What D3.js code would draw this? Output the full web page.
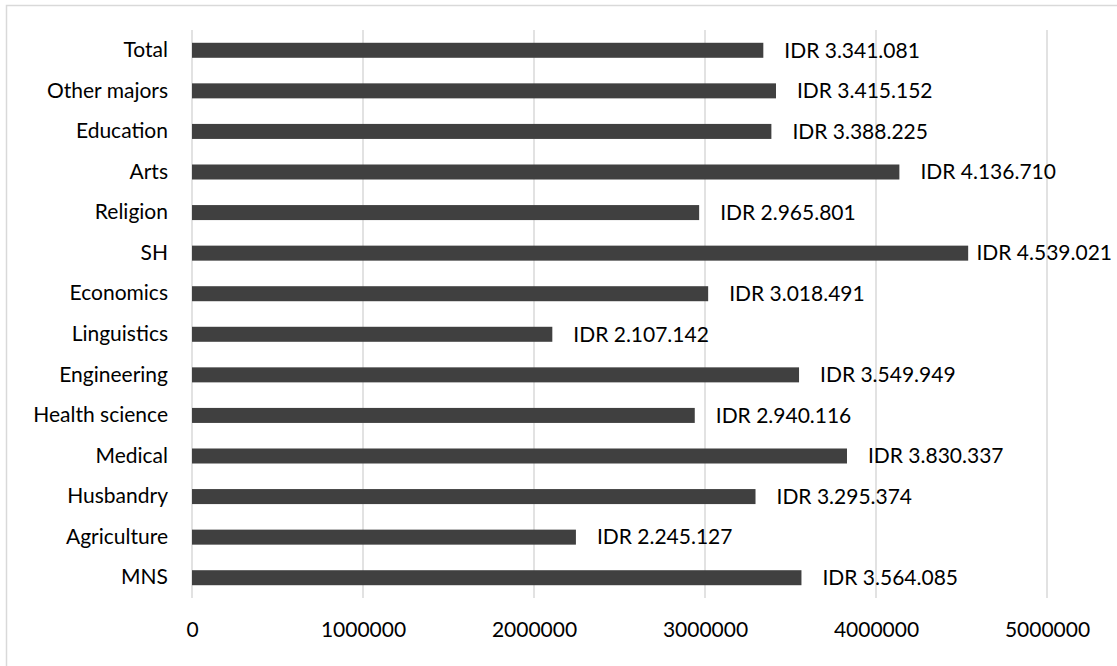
<!DOCTYPE html>
<html>
<head>
<meta charset="utf-8">
<title>Average income by major</title>
<script src="https://cdn.jsdelivr.net/npm/d3@7"></script>
<style>
  body { margin: 0; background: #fff; }
  text { font-family: Lato, "Open Sans", sans-serif; fill: #000; }
</style>
</head>
<body>
<div id="chart"></div>
<script>
// data, top to bottom as drawn
const categories = ["Total", "Other majors", "Education", "Arts", "Religion", "SH", "Economics",
  "Linguistics", "Engineering", "Health science", "Medical", "Husbandry", "Agriculture", "MNS"];
const incomes = [3341081, 3415152, 3388225, 4136710, 2965801, 4539021, 3018491,
  2107142, 3549949, 2940116, 3830337, 3295374, 2245127, 3564085];
const xTicks = [0, 1000000, 2000000, 3000000, 4000000, 5000000];

const W = 1117, H = 666;
const margin = {top: 30, right: 70, bottom: 68, left: 192};
const width = W - margin.left - margin.right,
      height = H - margin.top - margin.bottom;
const fontSize = 21;

const svg = d3.select("#chart").append("svg")
    .attr("width", W)
    .attr("height", H);

// light frame round the chart
svg.append("rect")
    .attr("x", 6.5).attr("y", 5.5)
    .attr("width", W + 20).attr("height", H + 20)
    .attr("fill", "none")
    .attr("stroke", "#d9d9d9")
    .attr("stroke-width", 1.5);

const g = svg.append("g")
    .attr("transform", "translate(" + margin.left + "," + margin.top + ")");

const x = d3.scaleLinear().domain([0, 5000000]).range([0, 855]);
const y = d3.scaleBand().domain(categories).range([0, height]).paddingInner(0.63).paddingOuter(0.315);

// vertical gridlines
g.selectAll(".grid").data(xTicks).enter()
    .append("line")
    .attr("class", "grid")
    .attr("x1", d => x(d)).attr("x2", d => x(d))
    .attr("y1", 0).attr("y2", height)
    .attr("stroke", "#d9d9d9")
    .attr("stroke-width", 1.5);

// x axis labels
const xAxis = g.append("g")
    .attr("transform", "translate(0," + height + ")")
    .call(d3.axisBottom(x).tickValues(xTicks).tickFormat(d3.format("d")).tickSize(0).tickPadding(24));
xAxis.select(".domain").remove();
xAxis.selectAll("text").attr("font-size", fontSize).attr("font-family", null);

// y axis labels
const yAxis = g.append("g")
    .call(d3.axisLeft(y).tickSize(0).tickPadding(24));
yAxis.select(".domain").remove();
yAxis.selectAll("text").attr("font-size", fontSize).attr("font-family", null);

// bars
g.selectAll(".bar").data(categories).enter()
    .append("rect")
    .attr("class", "bar")
    .attr("x", x(0))
    .attr("y", d => y(d))
    .attr("width", (d, i) => x(incomes[i]) - x(0))
    .attr("height", y.bandwidth())
    .attr("fill", "#404040");

// value labels, kept inside the chart on the right
const fmt = v => "IDR " + d3.format(",")(v).replace(/,/g, ".");
const rightLimit = W - 5 - margin.left;
g.selectAll(".val").data(categories).enter()
    .append("text")
    .attr("class", "val")
    .attr("font-size", fontSize)
    .attr("y", d => y(d) + y.bandwidth() / 2)
    .attr("dy", "0.35em")
    .text((d, i) => fmt(incomes[i]))
    .attr("x", function(d, i) {
        const w = this.getComputedTextLength();
        return Math.min(x(incomes[i]) + 21, rightLimit - w);
    });
</script>
</body>
</html>
